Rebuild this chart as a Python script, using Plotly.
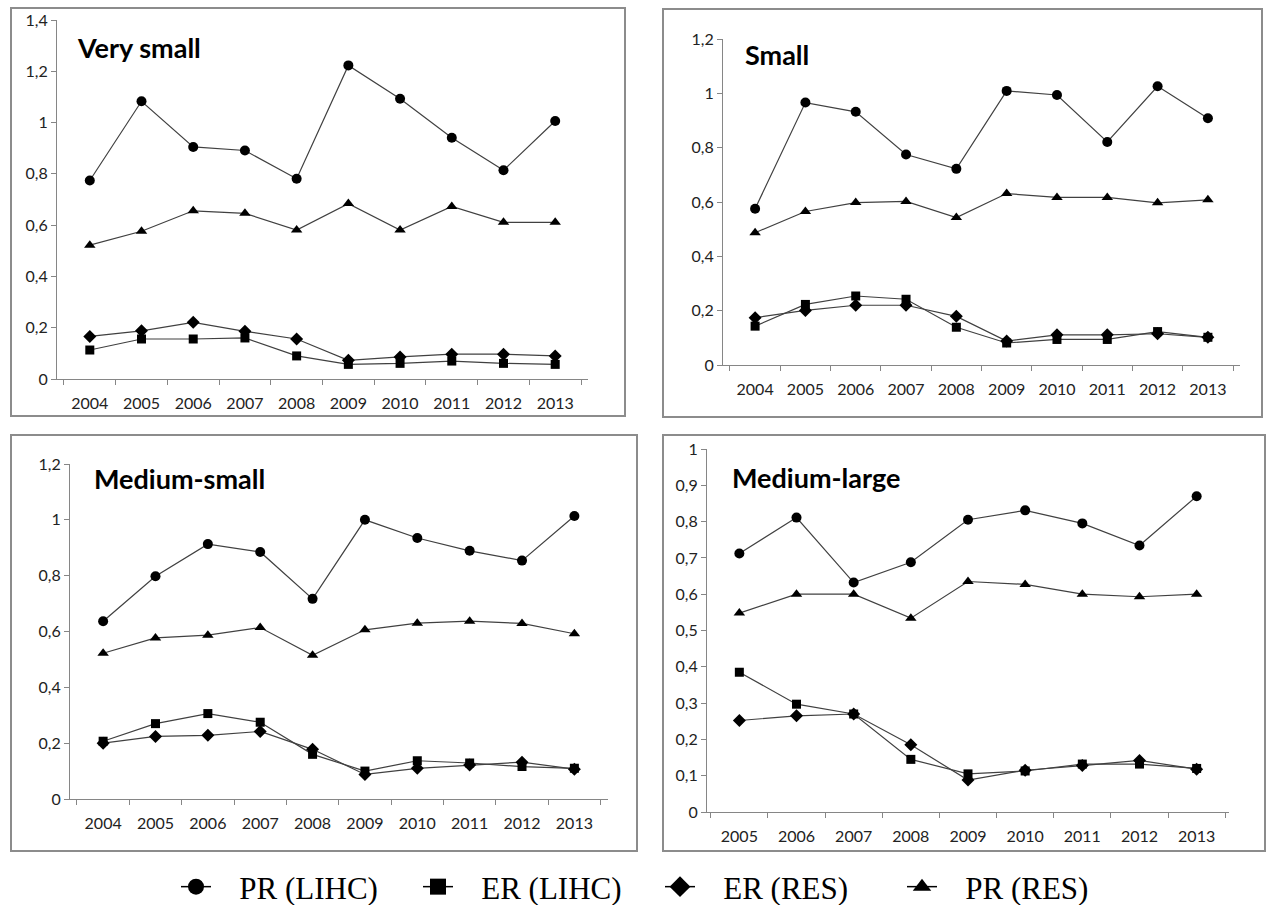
import plotly.graph_objects as go

W, H = 1267, 905

years10 = ['2004', '2005', '2006', '2007', '2008', '2009', '2010', '2011', '2012', '2013']
years9 = ['2005', '2006', '2007', '2008', '2009', '2010', '2011', '2012', '2013']

series_names = ['PR (LIHC)', 'ER (LIHC)', 'ER (RES)', 'PR (RES)']
series_symbols = ['circle', 'square', 'diamond', 'triangle-up']

# Very small
vs_pr_lihc = [0.774, 1.083, 0.905, 0.891, 0.781, 1.223, 1.093, 0.941, 0.814, 1.006]
vs_er_lihc = [0.113, 0.156, 0.156, 0.160, 0.090, 0.057, 0.061, 0.070, 0.061, 0.057]
vs_er_res = [0.166, 0.188, 0.221, 0.186, 0.156, 0.073, 0.086, 0.097, 0.097, 0.090]
vs_pr_res = [0.522, 0.576, 0.656, 0.646, 0.581, 0.684, 0.581, 0.673, 0.611, 0.611]

# Small
s_pr_lihc = [0.575, 0.966, 0.932, 0.775, 0.722, 1.009, 0.994, 0.821, 1.026, 0.908]
s_er_lihc = [0.143, 0.223, 0.254, 0.242, 0.139, 0.081, 0.094, 0.094, 0.123, 0.102]
s_er_res = [0.174, 0.201, 0.220, 0.220, 0.179, 0.088, 0.111, 0.111, 0.115, 0.102]
s_pr_res = [0.487, 0.565, 0.598, 0.602, 0.543, 0.631, 0.617, 0.617, 0.597, 0.608]

# Medium-small
ms_pr_lihc = [0.637, 0.798, 0.913, 0.885, 0.717, 1.000, 0.935, 0.889, 0.854, 1.014]
ms_er_lihc = [0.207, 0.270, 0.306, 0.275, 0.160, 0.100, 0.137, 0.129, 0.116, 0.110]
ms_er_res = [0.200, 0.224, 0.228, 0.242, 0.178, 0.088, 0.110, 0.122, 0.132, 0.107]
ms_pr_res = [0.522, 0.577, 0.587, 0.614, 0.515, 0.606, 0.630, 0.637, 0.629, 0.592]

# Medium-large
ml_pr_lihc = [0.712, 0.811, 0.632, 0.688, 0.805, 0.831, 0.795, 0.734, 0.870]
ml_er_lihc = [0.385, 0.297, 0.270, 0.145, 0.105, 0.113, 0.132, 0.132, 0.120]
ml_er_res = [0.252, 0.265, 0.270, 0.185, 0.088, 0.115, 0.128, 0.142, 0.118]
ml_pr_res = [0.548, 0.600, 0.600, 0.534, 0.635, 0.627, 0.600, 0.593, 0.600]

panels = [
    dict(title='Very small', x=years10, ys=[vs_pr_lihc, vs_er_lihc, vs_er_res, vs_pr_res],
         xpx=(57, 588), ypx=(379, 20), yrange=(0, 1.4), dtick=0.2,
         box=(11, 8, 625, 416), tpos=(75, 47)),
    dict(title='Small', x=years10, ys=[s_pr_lihc, s_er_lihc, s_er_res, s_pr_res],
         xpx=(723, 1240), ypx=(365, 39), yrange=(0, 1.2), dtick=0.2,
         box=(663, 9, 1262, 417), tpos=(743, 55)),
    dict(title='Medium-small', x=years10, ys=[ms_pr_lihc, ms_er_lihc, ms_er_res, ms_pr_res],
         xpx=(70, 607.5), ypx=(799, 464), yrange=(0, 1.2), dtick=0.2,
         box=(11, 435, 637, 851), tpos=(92, 478)),
    dict(title='Medium-large', x=years9, ys=[ml_pr_lihc, ml_er_lihc, ml_er_res, ml_pr_res],
         xpx=(707, 1229), ypx=(812, 449), yrange=(0, 1.0), dtick=0.1,
         box=(663, 435, 1265, 851), tpos=(730, 477)),
]

marker_sizes = [10, 9, 10, 10]
LINE_COLOR = '#404040'
AXIS_COLOR = '#868686'
TICK_FONT = dict(family='Lato, Open Sans, sans-serif', size=16, color='#222')

fig = go.Figure()
layout = dict(
    width=W, height=H,
    margin=dict(l=0, r=0, t=0, b=0, autoexpand=False),
    paper_bgcolor='white', plot_bgcolor='white',
    separators=', ',
    showlegend=True,
)
shapes = []
annotations = []

for i, p in enumerate(panels):
    suffix = '' if i == 0 else str(i + 1)
    xa = 'xaxis' + suffix
    ya = 'yaxis' + suffix
    for k in range(4):
        fig.add_trace(go.Scatter(
            x=p['x'], y=p['ys'][k], mode='lines+markers',
            name=series_names[k], legendgroup=series_names[k], showlegend=False,
            line=dict(color=LINE_COLOR, width=1.2),
            marker=dict(symbol=series_symbols[k], size=marker_sizes[k], color='black'),
            xaxis='x' + suffix, yaxis='y' + suffix,
        ))
    x0, x1 = p['xpx']
    yb, yt = p['ypx']
    layout[xa] = dict(
        domain=[x0 / W, x1 / W], anchor='y' + suffix, type='category',
        showline=True, linecolor=AXIS_COLOR, linewidth=1,
        ticks='outside', tickson='boundaries', ticklen=5, tickcolor=AXIS_COLOR,
        showgrid=False, zeroline=False, tickfont=TICK_FONT, ticklabelstandoff=10,
        automargin=False, fixedrange=True,
    )
    layout[ya] = dict(
        domain=[1 - yb / H, 1 - yt / H], anchor='x' + suffix,
        range=list(p['yrange']), dtick=p['dtick'], tick0=0,
        showline=True, linecolor=AXIS_COLOR, linewidth=1,
        ticks='outside', ticklen=5, tickcolor=AXIS_COLOR,
        showgrid=False, zeroline=False, tickfont=TICK_FONT,
        automargin=False, fixedrange=True,
    )
    bx0, by0, bx1, by1 = p['box']
    shapes.append(dict(type='rect', xref='paper', yref='paper',
                       x0=bx0 / W, x1=bx1 / W, y0=1 - by1 / H, y1=1 - by0 / H,
                       line=dict(color='#8c8c8c', width=2), fillcolor='rgba(0,0,0,0)', layer='below'))
    tx, ty = p['tpos']
    annotations.append(dict(text='<b>' + p['title'] + '</b>', xref='paper', yref='paper',
                            x=tx / W, y=1 - ty / H, xanchor='left', yanchor='middle',
                            showarrow=False,
                            font=dict(family='Lato, Open Sans, sans-serif', size=27, color='black')))

# legend entries
for k in range(4):
    fig.add_trace(go.Scatter(
        x=[None], y=[None], mode='lines+markers',
        name='\u00a0\u00a0\u00a0' + series_names[k], legendgroup=series_names[k], showlegend=True,
        line=dict(color='black', width=1.5),
        marker=dict(symbol=series_symbols[k], size=16, color='black'),
        xaxis='x', yaxis='y',
    ))

layout['shapes'] = shapes
layout['annotations'] = annotations
layout['legend'] = dict(
    orientation='h', x=176 / W, xanchor='left', y=1 - 887 / H, yanchor='middle',
    font=dict(family='Liberation Serif, Times New Roman, serif', size=31, color='black'),
    entrywidth=197, entrywidthmode='pixels', bgcolor='rgba(0,0,0,0)',
    itemclick=False, itemdoubleclick=False,
)
fig.update_layout(**layout)
fig.write_html('out.html', config={'displayModeBar': False},
               post_script="document.body.style.margin='0';document.body.style.overflow='hidden';")
